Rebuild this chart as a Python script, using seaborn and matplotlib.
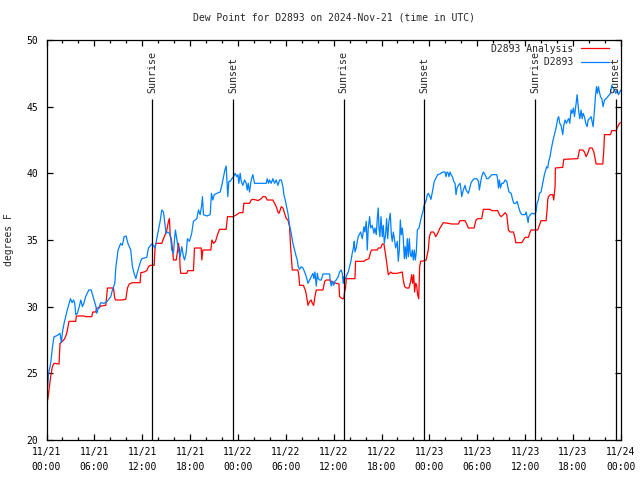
import pandas as pd
import seaborn as sns
import matplotlib.pyplot as plt
from matplotlib.lines import Line2D
from matplotlib.ticker import MultipleLocator

# time axis is hours since 2024-11-21 00:00 UTC
analysis_hours = [
    0.15, 0.31, 0.52, 0.73, 0.94, 1.57, 1.69, 1.99, 2.28, 2.53, 2.82, 3.66, 3.74, 4.71, 4.92,
    5.67, 5.8, 6.17, 6.3, 6.59, 6.8, 7.43, 7.64, 8.39, 8.56, 8.68, 9.39, 9.94, 10.15, 10.36,
    10.77, 11.74, 11.82, 12.24, 12.57, 12.78, 13.0, 13.5, 13.61, 13.74, 14.45, 14.66, 14.87,
    15.08, 15.29, 15.41, 15.5, 15.66, 15.83, 15.91, 16.25, 16.41, 16.54, 16.67, 16.75, 16.83,
    17.59, 17.71, 18.42, 18.55, 19.39, 19.47, 19.6, 20.6, 20.73, 20.93, 21.19, 21.44, 21.69,
    22.52, 22.69, 23.36, 23.53, 23.86, 24.2, 24.62, 24.74, 25.45, 25.66, 25.87, 26.29, 26.5,
    26.92, 27.13, 27.46, 27.67, 28.38, 28.59, 28.8, 29.01, 29.14, 29.3, 29.43, 29.64, 29.85,
    30.06, 30.27, 30.47, 30.6, 30.73, 30.81, 31.52, 31.65, 31.73, 32.2, 32.44, 32.57, 32.78,
    32.99, 33.19, 33.32, 33.49, 33.65, 33.82, 34.66, 34.87, 35.08, 35.5, 35.7, 36.33, 36.66,
    36.74, 37.08, 37.28, 37.37, 37.49, 37.58, 38.67, 38.75, 39.8, 40.0, 40.42, 40.63, 40.76,
    41.47, 41.59, 41.89, 42.1, 42.3, 42.51, 42.72, 42.85, 43.02, 43.14, 43.35, 43.98, 44.6,
    44.73, 44.9, 45.11, 45.44, 45.65, 45.78, 45.9, 46.03, 46.15, 46.28, 46.4, 46.53, 46.66,
    46.78, 46.91, 47.45, 47.6, 47.87, 48.0, 48.2, 48.5, 48.62, 48.79, 49.04, 49.33, 49.54,
    49.75, 50.38, 50.8, 51.64, 51.84, 52.47, 52.68, 52.89, 53.6, 53.85, 54.06, 54.56, 54.77,
    55.61, 55.82, 56.57, 56.78, 56.99, 57.28, 57.49, 57.7, 57.91, 58.12, 58.54, 58.75, 58.83,
    59.59, 59.79, 60.0, 60.42, 60.54, 60.75, 61.58, 61.79, 62.0, 62.63, 62.76, 62.84, 62.92,
    63.17, 63.47, 63.59, 63.76, 63.8, 64.72, 64.85, 66.6, 66.82, 67.23, 67.44, 67.65, 67.86,
    68.07, 68.4, 68.62, 68.78, 68.91, 69.74, 69.87, 69.95, 70.7, 70.87, 71.41, 71.62, 71.83,
    72.0,
]
analysis_dewpt = [
    23.0, 23.75, 24.75, 25.5, 25.75, 25.7, 27.25, 27.4, 27.6, 28.0, 28.9, 28.9, 29.3, 29.3, 29.25,
    29.25, 29.6, 29.6, 29.9, 29.9, 30.05, 30.1, 31.4, 31.4, 30.6, 30.5, 30.5, 30.55, 31.4, 31.7,
    31.8, 31.8, 32.55, 32.6, 32.7, 33.0, 33.1, 33.1, 34.5, 34.75, 34.75, 35.1, 35.4,
    35.75, 36.4, 36.6, 35.4, 35.0, 34.1, 33.5, 33.5, 34.1, 34.75, 34.25, 32.9, 32.5,
    32.5, 32.7, 32.7, 34.4, 34.4, 33.5, 34.25, 34.25, 35.0, 34.75, 34.9, 35.4, 35.8,
    35.8, 36.75, 36.75, 36.8, 36.9, 37.05, 37.05, 37.75, 37.75, 38.0, 38.05, 38.0, 37.95,
    38.1, 38.25, 38.25, 38.0, 38.0, 37.75, 37.5, 37.1, 37.0, 37.25, 37.5, 37.4, 37.0,
    36.6, 36.5, 36.0, 34.5, 33.4, 32.75, 32.75, 32.25, 31.6, 31.6, 31.25, 30.9, 30.1,
    30.4, 30.5, 30.25, 30.1, 30.75, 31.25, 31.25, 31.9, 32.0, 32.0, 31.9, 31.75, 31.7,
    30.75, 30.6, 30.6, 31.1, 31.4, 32.1, 32.1, 33.4, 33.4, 33.5, 33.6, 34.1, 34.25,
    34.25, 34.4, 34.4, 34.7, 34.7, 33.9, 33.0, 32.4, 32.5, 32.6, 32.5, 32.5, 32.6,
    32.0, 31.5, 31.4, 31.4, 31.9, 32.4, 31.75, 32.4, 31.1, 31.75, 31.6, 30.9, 30.6,
    33.0, 33.4, 33.45, 33.5, 34.3, 35.25, 35.6, 35.6, 35.5, 35.25, 35.5, 35.9, 36.1,
    36.3, 36.25, 36.2, 36.2, 36.45, 36.45, 36.2, 35.9, 35.9, 36.5, 36.6, 36.6, 37.3,
    37.3, 37.2, 37.2, 36.9, 36.75, 36.9, 37.05, 36.9, 35.75, 35.6, 35.6, 35.1, 34.8,
    34.8, 35.0, 35.2, 35.2, 35.45, 35.75, 35.75, 36.1, 36.45, 36.45, 37.25, 38.0, 38.25,
    38.4, 38.4, 38.0, 39.0, 40.4, 40.45, 41.05, 41.1, 41.75, 41.75, 41.6, 41.25, 41.5,
    41.9, 41.9, 41.6, 41.1, 40.7, 40.7, 41.75, 42.9, 42.9, 43.2, 43.2, 43.5, 43.75,
    43.8,
]

station_hours = [
    0.15, 0.25, 0.52, 0.75, 0.94, 1.2, 1.5, 1.69, 1.86, 2.0, 2.2, 2.6, 3.0, 3.2, 3.4, 3.55, 3.66,
    3.87, 4.1, 4.3, 4.5, 4.7, 4.9, 5.3, 5.6, 5.96, 6.2, 6.3, 6.45, 6.6, 6.8, 7.2, 7.6, 8.05,
    8.26, 8.56, 8.7, 8.97, 9.3, 9.5, 9.73, 9.98, 10.2, 10.56, 10.77, 10.98, 11.2, 11.4, 11.8,
    11.94, 12.57, 12.78, 13.19, 13.4, 13.61, 13.82, 14.03, 14.24, 14.45, 14.66, 14.87, 14.99,
    15.16, 15.41, 15.58, 15.7, 15.91, 16.04, 16.16, 16.33, 16.54, 16.75, 16.96, 17.17, 17.3,
    17.5, 17.67, 17.92, 18.2, 18.42, 18.84, 19.05, 19.26, 19.43, 19.55, 19.68, 20.1, 20.52,
    20.68, 20.85, 21.02, 21.35, 21.77, 21.98, 22.19, 22.36, 22.52, 22.61, 22.73, 22.86, 23.03,
    23.24, 23.45, 23.65, 23.86, 24.0, 24.11, 24.28, 24.41, 24.62, 24.83, 25.04, 25.16, 25.29,
    25.45, 25.66, 25.87, 26.08, 27.55, 27.67, 27.84, 27.96, 28.17, 28.38, 28.59, 28.8, 29.01,
    29.22, 29.43, 29.64, 29.76, 29.93, 30.06, 30.27, 30.47, 30.68, 30.89, 31.1, 31.31, 31.44,
    31.56, 31.73, 31.94, 32.15, 32.36, 32.57, 32.78, 32.99, 33.19, 33.4, 33.53, 33.65, 33.82,
    33.95, 34.07, 34.24, 34.45, 34.66, 35.5, 35.58, 35.7, 35.83, 36.0, 36.15, 36.32, 36.57,
    36.74, 36.95, 37.08, 37.2, 37.28, 37.49, 37.66, 37.83, 38.0, 38.16, 38.33, 38.5, 38.58,
    38.67, 38.83, 38.96, 39.08, 39.38, 39.59, 39.79, 39.92, 40.09, 40.21, 40.34, 40.51, 40.63,
    40.84, 41.05, 41.18, 41.34, 41.47, 41.59, 41.68, 41.8, 41.93, 42.1, 42.22, 42.35, 42.51,
    42.64, 42.77, 42.93, 43.1, 43.23, 43.35, 43.48, 43.64, 43.77, 43.98, 44.1, 44.23, 44.36,
    44.48, 44.61, 44.73, 44.86, 44.98, 45.11, 45.23, 45.36, 45.49, 45.61, 45.74, 45.86, 45.99,
    46.11, 46.24, 46.36, 46.49, 46.7, 46.91, 47.12, 47.24, 47.33, 47.45, 47.62, 47.74, 47.87,
    48.08, 48.2, 48.37, 48.5, 48.62, 48.79, 49.04, 49.33, 49.54, 49.75, 49.96, 50.09, 50.21,
    50.38, 50.46, 50.59, 50.72, 50.88, 51.05, 51.22, 51.34, 51.47, 51.64, 51.84, 51.97, 52.05,
    52.26, 52.47, 52.6, 52.77, 52.89, 53.1, 53.23, 53.52, 53.73, 53.94, 54.15, 54.27, 54.4,
    54.56, 54.77, 54.98, 55.19, 55.4, 55.61, 55.82, 56.45, 56.57, 56.66, 56.78, 56.91, 57.08,
    57.28, 57.49, 57.7, 57.83, 57.99, 58.25, 58.41, 58.58, 58.83, 59.0, 59.17, 59.38, 59.59,
    60.0, 60.13, 60.25, 60.38, 60.45, 60.66, 60.83, 61.17, 61.37, 61.5, 61.67, 61.79, 62.0,
    62.13, 62.3, 62.42, 62.59, 62.71, 62.84, 62.96, 63.13, 63.26, 63.38, 63.51, 63.68, 63.88,
    64.09, 64.22, 64.34, 64.51, 64.72, 64.85, 65.01, 65.18, 65.35, 65.47, 65.6, 65.77, 65.89,
    66.06, 66.19, 66.4, 66.52, 66.6, 66.73, 66.86, 67.02, 67.15, 67.27, 67.44, 67.61, 67.78,
    67.9, 68.07, 68.28, 68.4, 68.53, 68.7, 68.82, 68.95, 69.07, 69.2, 69.32, 69.45, 69.62,
    69.78, 69.95, 70.16, 70.37, 70.58, 70.7, 70.87, 71.04, 71.21, 71.37, 71.54, 71.71, 71.88,
    72.0,
]
station_dewpt = [
    24.0, 25.0, 25.75, 27.0, 27.75, 27.8, 27.9, 28.0, 27.3, 28.1, 28.75, 29.75, 30.6, 30.3, 30.5, 30.2, 29.4,
    29.5, 30.0, 30.5, 30.0, 30.3, 30.75, 31.25, 31.25, 30.5, 30.0, 29.5, 29.8, 30.0, 30.3, 30.25, 30.4, 30.75,
    31.25, 31.75, 33.0, 34.25, 34.75, 34.6, 35.25, 35.3, 34.75, 34.25, 33.0, 32.5, 32.1, 32.6, 33.4,
    33.6, 33.7, 34.4, 34.7, 34.6, 34.4, 35.1, 35.75, 36.4, 37.25, 37.1, 36.1, 35.5,
    35.6, 35.5, 35.1, 34.25, 34.0, 35.0, 35.75, 35.1, 34.25, 33.75, 34.5, 33.75, 33.5,
    34.0, 35.1, 34.9, 35.5, 36.4, 36.6, 37.25, 36.9, 37.5, 38.25, 36.9, 36.8, 36.9,
    38.5, 38.0, 38.4, 38.5, 38.6, 39.1, 39.75, 40.25, 40.55, 39.5, 38.25, 39.4, 39.4,
    39.6, 39.75, 40.0, 39.75, 39.9, 39.25, 40.0, 39.4, 39.1, 39.5, 39.25, 38.75, 39.25,
    38.6, 39.5, 39.9, 39.25, 39.25, 39.6, 39.25, 39.5, 39.25, 39.6, 39.25, 39.5, 39.1,
    39.5, 39.5, 39.0, 38.4, 38.0, 37.6, 37.0, 36.1, 35.5, 34.75, 34.25, 33.75, 33.5,
    33.0, 32.8, 33.0, 32.9, 32.6, 32.25, 31.75, 32.0, 32.25, 32.5, 32.1, 32.6, 31.55,
    32.5, 32.1, 32.0, 32.0, 32.45, 32.45, 31.9, 31.55, 31.9, 31.6, 31.9, 32.0, 32.25,
    32.6, 32.75, 32.5, 31.75, 32.25, 32.1, 32.4, 32.6, 33.0, 33.4, 34.0, 34.5, 34.9,
    34.1, 34.4, 34.9, 35.25, 35.6, 35.1, 36.0, 35.6, 36.4, 34.25, 35.9, 36.75, 35.9,
    36.1, 35.5, 35.9, 35.4, 36.6, 37.4, 35.9, 35.25, 36.75, 35.25, 36.1, 34.75, 35.4,
    36.6, 35.1, 36.4, 37.0, 35.4, 34.9, 35.6, 35.0, 34.4, 34.9, 33.4, 34.25, 36.5,
    35.4, 35.9, 35.1, 33.6, 34.5, 33.6, 35.1, 33.75, 35.1, 33.9, 33.75, 34.25, 33.5,
    34.25, 33.5, 34.1, 35.75, 35.9, 36.5, 37.0, 37.25, 37.6, 37.75, 38.0, 38.4, 38.5,
    38.25, 38.05, 38.6, 39.0, 39.4, 39.6, 39.9, 39.95, 40.05, 40.1, 40.1, 39.75, 40.1,
    40.0, 39.75, 40.1, 39.9, 39.75, 39.4, 39.25, 38.4, 38.9, 39.1, 39.25, 38.75, 38.25,
    38.75, 39.1, 38.75, 38.6, 38.5, 39.0, 39.3, 39.55, 39.6, 39.6, 39.4, 38.75, 39.25,
    39.75, 40.1, 39.9, 39.6, 39.6, 39.75, 39.9, 39.9, 39.5, 38.9, 39.5, 38.9, 39.25,
    39.25, 39.5, 39.4, 39.0, 38.6, 38.5, 38.1, 37.75, 37.75, 37.9, 37.5, 37.1, 36.9,
    36.9, 37.1, 36.75, 36.3, 36.7, 36.9, 37.0, 36.95, 37.1, 37.75, 38.0, 38.5, 38.6,
    39.0, 39.5, 39.9, 40.25, 40.5, 40.4, 40.9, 41.25, 41.75, 42.1, 42.5, 42.9, 43.4,
    44.1, 44.25, 43.75, 43.6, 42.9, 43.6, 44.0, 43.75, 44.0, 44.1, 43.75, 44.75, 44.5,
    44.9, 44.25, 45.25, 45.9, 45.4, 44.6, 44.1, 44.75, 44.1, 44.5, 44.25, 43.75, 43.5,
    44.0, 44.1, 44.25, 43.9, 43.5, 44.75, 45.75, 46.5, 46.0, 46.5, 46.1, 45.75, 45.6,
    45.0, 45.5, 45.6, 45.75, 45.9, 46.0, 46.6, 46.4, 46.25, 46.0, 46.25, 45.9, 46.1,
    46.25,
]

sunrise_hours = [13.25, 37.27, 61.28]
sunset_hours = [23.37, 47.38, 71.38]

tick_hours = list(range(0, 73, 6))
tick_labels = [
    "11/21\n00:00", "11/21\n06:00", "11/21\n12:00", "11/21\n18:00",
    "11/22\n00:00", "11/22\n06:00", "11/22\n12:00", "11/22\n18:00",
    "11/23\n00:00", "11/23\n06:00", "11/23\n12:00", "11/23\n18:00",
    "11/24\n00:00",
]

series_names = ["D2893 Analysis", "D2893"]
series_colors = {"D2893 Analysis": "#ff0000", "D2893": "#0080ff"}

df = pd.concat([
    pd.DataFrame({"hours": analysis_hours, "dewpt": analysis_dewpt, "series": series_names[0]}),
    pd.DataFrame({"hours": station_hours, "dewpt": station_dewpt, "series": series_names[1]}),
], ignore_index=True)

sns.set_style("ticks")
plt.rcParams["font.family"] = ["DejaVu Sans Mono"]
plt.rcParams["font.size"] = 7

fig, ax = plt.subplots(figsize=(6.4, 4.8), dpi=100)
fig.subplots_adjust(left=0.0727, right=0.970, bottom=0.0833, top=0.9167)

sns.lineplot(data=df, x="hours", y="dewpt", hue="series", hue_order=series_names,
             palette=series_colors, estimator=None, sort=False, linewidth=0.9,
             legend=False, ax=ax)

# sunrise / sunset markers
ax.vlines(sunrise_hours + sunset_hours, 20, 45.6, color="black", linewidth=0.9, zorder=3)
for h in sunrise_hours:
    ax.text(h, 46.05, "Sunrise", rotation=90, ha="center", va="bottom", fontsize=7.2)
for h in sunset_hours:
    ax.text(h, 46.05, "Sunset", rotation=90, ha="center", va="bottom", fontsize=7.2)

ax.set_xlim(0, 72)
ax.set_ylim(20, 50)
ax.set_xticks(tick_hours)
ax.set_xticklabels(tick_labels, linespacing=1.6)
ax.xaxis.set_minor_locator(MultipleLocator(2))
ax.yaxis.set_major_locator(MultipleLocator(5))

ax.tick_params(which="both", direction="in", top=True, right=True, width=0.9,
               color="black", labelsize=7, labelcolor="black")
ax.tick_params(which="major", length=4)
ax.tick_params(which="minor", length=2)
ax.tick_params(axis="x", pad=5)
ax.tick_params(axis="y", pad=6)
for s in ax.spines.values():
    s.set_visible(True)
    s.set_color("black")
    s.set_linewidth(0.9)

ax.set_xlabel("")
ax.set_ylabel("degrees F", fontsize=7, labelpad=9)
ax.set_title("Dew Point for D2893 on 2024-Nov-21 (time in UTC)", fontsize=7, pad=14)

# monospace font: right-justify legend labels like gnuplot does
width = max(len(n) for n in series_names)
handles = [Line2D([], [], color=series_colors[n], linewidth=0.9) for n in series_names]
leg = ax.legend(handles, [n.rjust(width) for n in series_names], loc="upper right",
                bbox_to_anchor=(0.986, 1.0), frameon=False, markerfirst=False, fontsize=7,
                handlelength=2.9, handletextpad=0.8, labelspacing=0.35, borderpad=0.0,
                borderaxespad=0.4)

fig.savefig("out.png", dpi=100)
